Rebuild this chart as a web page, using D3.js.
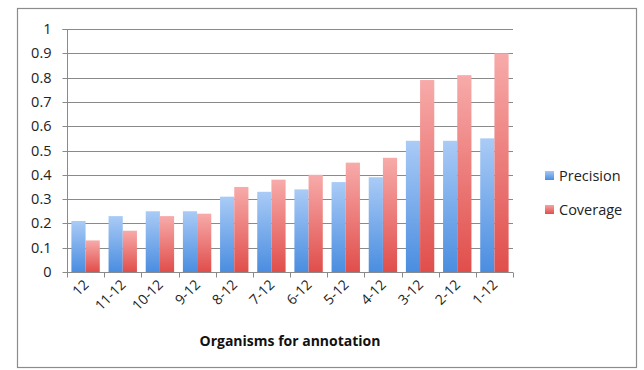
<!DOCTYPE html>
<html>
<head>
<meta charset="utf-8">
<script src="https://cdn.jsdelivr.net/npm/d3@7"></script>
<style>
  html, body { margin: 0; padding: 0; background: #fff; }
  svg { display: block; font-family: "Open Sans", "Noto Sans", Lato, sans-serif; }
</style>
</head>
<body>
<svg id="chart" width="644" height="370"></svg>
<script>
// Organism ranges used for annotation
const categories = ["12", "11-12", "10-12", "9-12", "8-12", "7-12", "6-12", "5-12", "4-12", "3-12", "2-12", "1-12"];
const precision  = [0.21, 0.23, 0.25, 0.25, 0.31, 0.33, 0.34, 0.37, 0.39, 0.54, 0.54, 0.55];
const coverage   = [0.13, 0.17, 0.23, 0.24, 0.35, 0.38, 0.40, 0.45, 0.47, 0.79, 0.81, 0.90];
const yTicks     = [0, 0.1, 0.2, 0.3, 0.4, 0.5, 0.6, 0.7, 0.8, 0.9, 1];
const seriesNames = ["Precision", "Coverage"];

const svg = d3.select("#chart");

// outer frame
svg.append("rect")
  .attr("x", 17.5).attr("y", 8.5).attr("width", 619).attr("height", 359)
  .attr("fill", "#fff").attr("stroke", "#8c8c8c").attr("stroke-width", 1.2);

const plot = { left: 67, right: 513, top: 29, bottom: 272 };

const x = d3.scaleBand().domain(categories).range([plot.left, plot.right]).paddingInner(0).paddingOuter(0);
const inner = d3.scaleBand().domain(seriesNames).range([0, x.bandwidth()]).paddingInner(0).paddingOuter(0.31);
const y = d3.scaleLinear().domain([0, 1]).range([plot.bottom, plot.top]);

// vertical gradients: light at the top, saturated at the base
const defs = svg.append("defs");
const grads = [
  { id: "gradBlue", top: "#aacbf6", bottom: "#4a8de0" },
  { id: "gradRed",  top: "#f7abaa", bottom: "#e04e4b" },
  { id: "legBlue",  top: "#a6c8f4", bottom: "#4a8de0" },
  { id: "legRed",   top: "#f5a3a2", bottom: "#e04e4b" }
];
grads.forEach(g => {
  const lg = defs.append("linearGradient").attr("id", g.id)
    .attr("x1", 0).attr("y1", 0).attr("x2", 0).attr("y2", 1);
  lg.append("stop").attr("offset", "0%").attr("stop-color", g.top);
  lg.append("stop").attr("offset", "100%").attr("stop-color", g.bottom);
});

// horizontal gridlines
svg.append("g")
  .selectAll("line")
  .data(yTicks.filter(t => t > 0))
  .join("line")
  .attr("x1", plot.left).attr("x2", plot.right)
  .attr("y1", d => Math.round(y(d)) + 0.5).attr("y2", d => Math.round(y(d)) + 0.5)
  .attr("stroke", "#8a8a8a").attr("stroke-width", 1);

// bars
const fills = ["url(#gradBlue)", "url(#gradRed)"];
const data = [precision, coverage];
const barG = svg.append("g");
seriesNames.forEach((name, si) => {
  barG.append("g").selectAll("rect")
    .data(categories.map((c, i) => ({ c, v: data[si][i] })))
    .join("rect")
    .attr("x", d => x(d.c) + inner(name))
    .attr("width", inner.bandwidth())
    .attr("y", d => y(d.v))
    .attr("height", d => y(0) - y(d.v))
    .attr("fill", fills[si]);
});

// y axis
const yAxis = d3.axisLeft(y).tickValues(yTicks).tickSize(5).tickPadding(11)
  .tickFormat(d => d3.format("")(+d.toFixed(1)));
const yG = svg.append("g").attr("transform", `translate(${plot.left + 0.5},0)`).call(yAxis);
yG.select(".domain").attr("stroke", "#8a8a8a").attr("d", `M-5,${plot.top + 0.5}H0V${plot.bottom + 0.5}`);
yG.selectAll(".tick line").attr("stroke", "#8a8a8a");
yG.selectAll(".tick").attr("transform", d => `translate(0,${Math.round(y(d)) + 0.5})`);
yG.selectAll(".tick text").attr("fill", "#222").style("font-size", "14.5px")
  .style("font-family", "'Open Sans', sans-serif");

// x axis with ticks at category boundaries
const xG = svg.append("g").attr("transform", `translate(0,${plot.bottom + 0.5})`);
xG.append("line").attr("x1", plot.left).attr("x2", plot.right).attr("stroke", "#8a8a8a");
const bounds = categories.map(c => x(c)).concat([plot.right]);
xG.selectAll("line.tk").data(bounds).join("line").attr("class", "tk")
  .attr("x1", d => Math.round(d) + 0.5).attr("x2", d => Math.round(d) + 0.5)
  .attr("y1", 0).attr("y2", 5).attr("stroke", "#8a8a8a");
xG.selectAll("text").data(categories).join("text")
  .attr("transform", d => `translate(${x(d) + x.bandwidth() / 2 + 4},${13}) rotate(-45)`)
  .attr("text-anchor", "end")
  .attr("fill", "#222")
  .style("font-size", "14px")
  .text(d => d);

// x axis title
svg.append("text")
  .attr("x", (plot.left + plot.right) / 2).attr("y", 346)
  .attr("text-anchor", "middle")
  .attr("fill", "#111")
  .style("font-size", "14px").style("font-weight", "bold")
  .text("Organisms for annotation");

// legend
const legend = svg.append("g");
const legFills = ["url(#legBlue)", "url(#legRed)"];
seriesNames.forEach((name, i) => {
  const ly = 176 + i * 34;
  legend.append("rect").attr("x", 545).attr("y", ly - 5).attr("width", 9).attr("height", 9)
    .attr("fill", legFills[i]);
  legend.append("text").attr("x", 559).attr("y", ly + 5)
    .attr("fill", "#222").style("font-size", "14.5px").text(name);
});
</script>
</body>
</html>
